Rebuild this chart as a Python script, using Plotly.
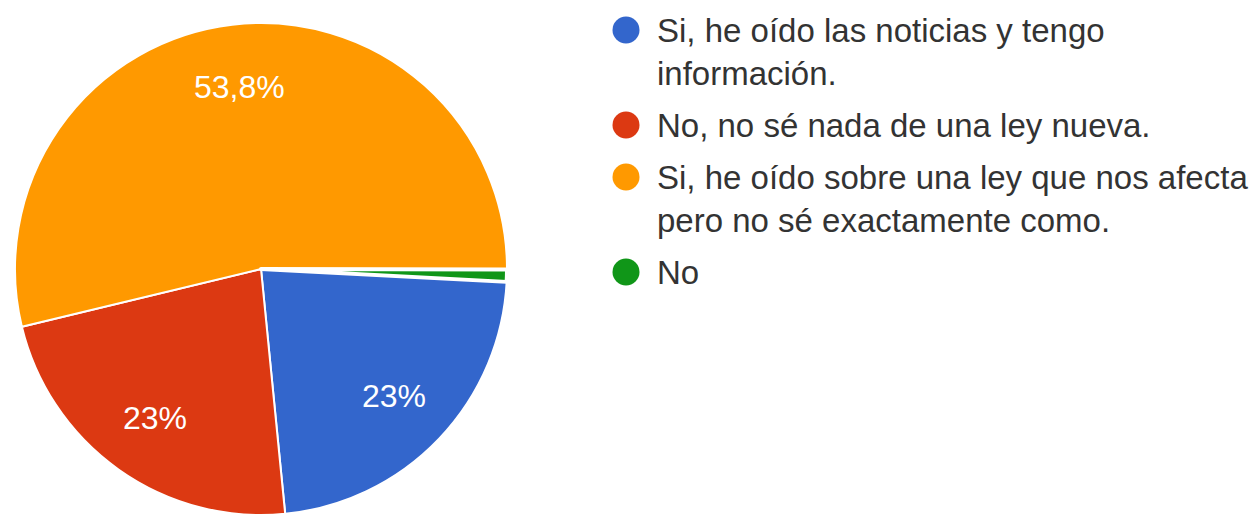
import math
import plotly.graph_objects as go

# ---- data ----
labels = [
    "Si, he oído las noticias y tengo<br>información.",
    "No, no sé nada de una ley nueva.",
    "Si, he oído sobre una ley que nos afecta<br>pero no sé exactamente como.",
    "No",
]
values = [22.6, 22.8, 53.8, 0.8]
pie_text = ["23%", "23%", "53,8%", ""]
colors = ["#3366CC", "#DC3912", "#FF9900", "#109618"]

# ---- layout constants ----
W, H = 1255, 515
FONT = "Liberation Sans, Arial, sans-serif"
LEG_FONT = 33
PIE_FONT = 32
LINE_H = 43
ITEM_GAP = 9
LEG_Y0 = 30
LEG_MX = 626
LEG_TX = 655
ROT = 93
PIE_L, PIE_R, PIE_T = 15, 507, 23
LABEL_R = 0.745
LINE_W = [2, 2, 2, 4]

fig = go.Figure()
fig.add_trace(go.Pie(
    labels=labels, values=values, textinfo="none",
    sort=False, direction="clockwise", rotation=ROT,
    marker=dict(colors=colors, line=dict(color="white", width=LINE_W)),
    domain=dict(x=[PIE_L / W, PIE_R / W], y=[0, (H - PIE_T) / H]),
    showlegend=False, hoverinfo="label+percent",
))

annots = []

# percentage labels placed at the middle angle of each slice
cx = (PIE_L + PIE_R) / 2
r = (PIE_R - PIE_L) / 2
cy = PIE_T + r
total = sum(values)
acc = ROT
for v, t in zip(values, pie_text):
    span = 360 * v / total
    mid = math.radians(acc + span / 2)
    acc += span
    if not t:
        continue
    annots.append(dict(x=cx + LABEL_R * r * math.sin(mid),
                       y=cy - LABEL_R * r * math.cos(mid),
                       xref="x", yref="y", text=t, showarrow=False,
                       xanchor="center", yanchor="middle",
                       font=dict(family=FONT, size=PIE_FONT, color="white")))

# custom legend (circle markers + text lines)
ys = []
y = LEG_Y0
for lab in labels:
    ys.append(y)
    lines = lab.split("<br>")
    for k, line in enumerate(lines):
        annots.append(dict(x=LEG_TX, y=y + k * LINE_H, xref="x", yref="y",
                           text=line, showarrow=False, xanchor="left", yanchor="middle",
                           font=dict(family=FONT, size=LEG_FONT, color="#333333")))
    y += len(lines) * LINE_H + ITEM_GAP

fig.add_trace(go.Scatter(
    x=[LEG_MX] * len(labels), y=ys, mode="markers",
    marker=dict(size=27, color=colors, line=dict(width=0)),
    showlegend=False, hoverinfo="skip",
))

fig.update_layout(
    width=W, height=H, margin=dict(l=0, r=0, t=0, b=0),
    paper_bgcolor="white", plot_bgcolor="rgba(0,0,0,0)",
    xaxis=dict(range=[0, W], visible=False, domain=[0, 1], fixedrange=True),
    yaxis=dict(range=[H, 0], visible=False, domain=[0, 1], fixedrange=True),
    annotations=annots, showlegend=False,
)

fig.write_html("out.html", config={"displayModeBar": False},
               post_script="document.body.style.margin='0';")
